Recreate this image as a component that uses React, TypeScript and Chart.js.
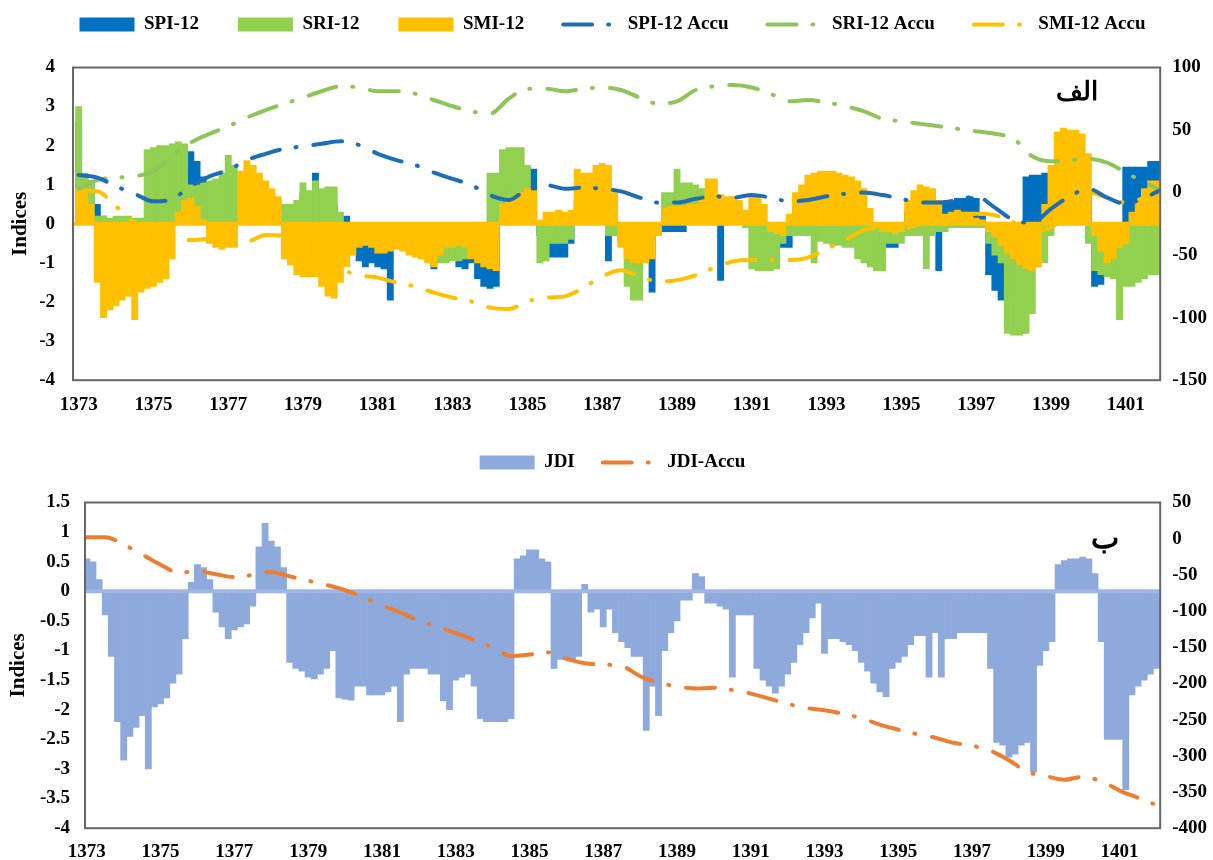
import React, { useEffect, useRef } from 'react';
import { Chart, registerables } from 'chart.js';

Chart.register(...registerables);

const FONT = "'Liberation Serif', 'Times New Roman', 'DejaVu Serif', serif";
Chart.defaults.font.family = FONT;
Chart.defaults.font.weight = 'bold';
Chart.defaults.color = '#000';

// ---------- data ----------
const START_YEAR = 1373;
const BAR_STEP = 1 / 6; // two months
const ACCU_STEP = 0.5; // half a year
const YEAR_TICKS = [1373, 1375, 1377, 1379, 1381, 1383, 1385, 1387, 1389, 1391, 1393, 1395, 1397, 1399, 1401];

// bi-monthly values, 6 per year, 1373 .. 1401
const SPI_12 = [
  2.6, 1.2, 1.1, 0.5, 0.2, 0.1, // 1373
  0.1, 0.05, -0.3, -0.5, -0.4, 0.15, // 1374
  1.2, 1.5, 1.6, 1.7, 1.8, 1.85, // 1375
  1.85, 1.6, 1.2, 0.9, 0.8, 1.0, // 1376
  1.2, 1.1, 1.2, 1.3, 1.3, 1.1, // 1377
  0.9, 0.7, 0.5, 0.3, 0.3, 0.4, // 1378
  0.8, 0.7, 1.3, 0.8, 0.6, 0.5, // 1379
  0.2, 0.2, -0.7, -0.95, -1.1, -1.0, // 1380
  -1.1, -1.15, -1.95, -0.5, -0.5, -0.6, // 1381
  -0.8, -0.85, -0.9, -1.15, -0.9, -0.7, // 1382
  -0.8, -1.1, -1.15, -1.0, -1.4, -1.6, // 1383
  -1.65, -1.6, 0.8, 1.0, 1.2, 1.3, // 1384
  1.45, 1.4, -0.3, -0.85, -0.85, -0.85, // 1385
  -0.85, -0.5, 0.6, 0.7, 0.8, 0.9, // 1386
  0.9, -0.95, -0.2, -0.4, -0.6, -0.8, // 1387
  -0.9, -0.95, -1.75, -0.3, -0.2, -0.2, // 1388
  -0.2, -0.2, 0.3, 0.4, 0.5, 0.6, // 1389
  0.3, -1.45, 0.2, 0.3, 0.3, 0.2, // 1390
  0.2, 0.1, -0.3, -0.4, -0.5, -0.6, // 1391
  -0.6, 0.5, 0.6, 0.7, 0.8, 0.3, // 1392
  0.5, 0.5, 0.4, 0.3, 0.3, 0.2, // 1393
  0.2, -0.2, -0.3, -0.4, -0.6, -0.6, // 1394
  -0.3, 0.3, 0.4, 0.5, 0.6, -0.3, // 1395
  -1.2, 0.55, 0.6, 0.65, 0.65, 0.7, // 1396
  0.65, 0.2, -1.3, -1.7, -1.95, -1.95, // 1397
  -1.0, -0.5, 1.2, 1.25, 1.25, 1.3, // 1398
  1.3, 1.3, 1.2, 1.2, 1.1, 1.0, // 1399
  0.8, -1.6, -1.55, -1.3, -1.2, -1.1, // 1400
  1.45, 1.45, 1.45, 1.45, 1.6, 1.6, // 1401
];

const SRI_12 = [
  3.0, 1.3, 1.1, 0.2, 0.2, 0.15, // 1373
  0.2, 0.2, 0.2, 0.15, 0.15, 1.9, // 1374
  1.95, 2.0, 2.0, 2.05, 2.1, 2.05, // 1375
  1.0, 1.0, 1.05, 1.1, 1.15, 1.3, // 1376
  1.75, 1.5, 1.3, 1.2, 1.1, 1.0, // 1377
  0.8, 0.7, 0.6, 0.5, 0.5, 0.6, // 1378
  1.05, 0.85, 1.1, 0.9, 0.95, 0.95, // 1379
  0.3, -0.2, -0.3, -0.4, -0.4, -0.5, // 1380
  -0.5, -0.5, -0.4, -0.4, -0.5, -0.6, // 1381
  -0.7, -0.8, -0.9, -1.0, -1.0, -1.0, // 1382
  -0.95, -0.95, -0.9, -0.6, -0.5, -0.5, // 1383
  1.3, 1.3, 1.9, 1.95, 1.95, 1.95, // 1384
  1.5, 0.8, -1.0, -0.95, -0.5, -0.5, // 1385
  -0.5, -0.4, 0.5, 0.6, 0.7, 0.8, // 1386
  0.9, -0.3, -0.3, -0.5, -1.6, -1.95, // 1387
  -1.95, -0.8, -0.8, -0.3, 0.8, 0.8, // 1388
  1.4, 1.05, 1.05, 1.0, 0.9, 0.8, // 1389
  0.4, 0.2, 0.1, 0.1, 0.0, -0.1, // 1390
  -1.15, -1.2, -1.2, -1.2, -1.15, -0.5, // 1391
  -0.3, -0.3, -0.3, -0.3, -1.0, -0.45, // 1392
  -0.5, -0.55, -0.55, -0.6, -0.6, -0.9, // 1393
  -1.0, -1.1, -1.2, -1.2, -0.5, -0.5, // 1394
  -0.5, -0.3, -0.3, -0.3, -1.15, -0.3, // 1395
  -0.2, -0.2, -0.1, -0.1, -0.1, -0.1, // 1396
  -0.1, -0.1, -0.5, -0.8, -1.0, -2.8, // 1397
  -2.85, -2.85, -2.8, -2.3, -1.1, -1.0, // 1398
  -0.3, 0.1, 0.2, 0.2, 0.1, 0.1, // 1399
  -0.5, -1.2, -1.3, -1.35, -1.4, -2.45, // 1400
  -1.6, -1.6, -1.5, -1.4, -1.3, -1.3, // 1401
];

const SMI_12 = [
  0.9, 0.8, 0.5, -1.5, -2.4, -2.2, // 1373
  -2.1, -1.95, -1.85, -2.45, -1.75, -1.65, // 1374
  -1.6, -1.5, -1.4, -0.9, 0.3, 0.6, // 1375
  0.65, 0.45, 0.1, -0.5, -0.6, -0.65, // 1376
  -0.6, -0.6, 1.35, 1.62, 1.5, 1.3, // 1377
  1.1, 0.9, 0.7, -0.9, -1.05, -1.3, // 1378
  -1.35, -1.35, -1.35, -1.6, -1.85, -1.9, // 1379
  -1.5, -1.1, -0.8, -0.6, -0.55, -0.6, // 1380
  -0.75, -0.75, -0.7, -0.65, -0.7, -0.8, // 1381
  -0.85, -0.9, -1.0, -1.1, -0.8, -0.6, // 1382
  -0.6, -0.55, -0.6, -0.9, -1.0, -1.1, // 1383
  -1.15, -1.2, 0.5, 0.6, 0.7, 0.8, // 1384
  0.9, 0.85, 0.1, 0.3, 0.3, 0.35, // 1385
  0.3, 0.35, 1.4, 1.3, 1.3, 1.5, // 1386
  1.55, 1.5, 0.8, -0.6, -0.9, -1.0, // 1387
  -1.0, -1.0, -0.9, -0.3, 0.4, 0.45, // 1388
  0.45, 0.45, 0.5, 0.5, 0.7, 1.15, // 1389
  1.15, 0.75, 0.7, 0.7, 0.6, 0.35, // 1390
  0.75, 0.75, 0.5, -0.2, -0.25, -0.3, // 1391
  0.25, 0.8, 1.0, 1.25, 1.3, 1.35, // 1392
  1.35, 1.35, 1.3, 1.25, 1.2, 1.1, // 1393
  0.9, 0.4, -0.1, -0.2, -0.2, -0.25, // 1394
  -0.2, 0.6, 0.85, 1.0, 0.95, 0.9, // 1395
  0.6, 0.25, 0.3, 0.35, 0.3, 0.3, // 1396
  0.15, 0.1, -0.2, -0.35, -0.55, -0.75, // 1397
  -0.9, -1.05, -1.15, -1.2, -1.1, 0.5, // 1398
  1.5, 2.35, 2.45, 2.4, 2.4, 2.3, // 1399
  1.8, -0.3, -0.7, -1.0, -0.9, -0.6, // 1400
  -0.5, 0.3, 0.6, 0.9, 1.1, 1.1, // 1401
];

// half-yearly accumulated values, 1373.0 .. 1402.0
const SPI_12_ACCU = [
  14, 12, 5, -1, -7, -5, 5, 13, 18, 26, 31, 35, 37, 39, 41, 38, 31, 26, 22, 16,
  11, 6, -2, -6, 3, 6, 3, 4, 3, 1, -4, -8, -8, -5, -3, -4, -2, -4, -7, -6,
  -3, -1, 0, -2, -5, -8, -8, -6, -3, -12, -22, -24, -13, -3, 3, -4, -9, -4, 3,
];
const SRI_12_ACCU = [
  3, 10, 12, 13, 17, 29, 40, 47, 53, 60, 66, 71, 76, 81, 85, 84, 81, 81, 79, 74,
  69, 65, 63, 75, 83, 83, 81, 83, 84, 82, 76, 71, 73, 82, 85, 86, 84, 79, 73, 74,
  72, 69, 65, 59, 57, 55, 53, 51, 49, 47, 43, 29, 25, 26, 27, 24, 16, 8, 1,
];
const SMI_12_ACCU = [
  2, 1, -11, -24, -33, -38, -38, -37, -39, -39, -34, -35, -43, -52, -61, -66, -68, -72, -75, -80,
  -84, -87, -92, -93, -87, -84, -83, -76, -67, -62, -67, -71, -70, -66, -60, -55, -54, -54, -54, -52,
  -45, -38, -30, -28, -29, -25, -20, -18, -17, -18, -24, -30, -28, -14, 0, -4, -8, -4, 2,
];

const JDI = [
  0.55, 0.5, 0.2, -0.4, -1.1, -2.2, // 1373
  -2.85, -2.45, -2.3, -2.1, -3.0, -1.95, // 1374
  -1.9, -1.8, -1.55, -1.4, -0.8, 0.15, // 1375
  0.45, 0.4, 0.2, -0.35, -0.6, -0.8, // 1376
  -0.65, -0.6, -0.55, -0.25, 0.75, 1.15, // 1377
  0.85, 0.75, 0.4, -1.2, -1.3, -1.35, // 1378
  -1.45, -1.48, -1.4, -1.3, -1.0, -1.8, // 1379
  -1.82, -1.84, -1.6, -1.6, -1.75, -1.75, // 1380
  -1.75, -1.7, -1.6, -2.2, -1.4, -1.3, // 1381
  -1.3, -1.3, -1.4, -1.4, -1.85, -2.0, // 1382
  -1.5, -1.45, -1.4, -1.6, -2.15, -2.2, // 1383
  -2.2, -2.2, -2.2, -2.15, 0.55, 0.6, // 1384
  0.7, 0.7, 0.55, 0.5, -1.3, -1.15, // 1385
  -1.15, -1.15, -1.1, 0.12, -0.35, -0.3, // 1386
  -0.6, -0.3, -0.7, -0.85, -0.95, -1.1, // 1387
  -1.1, -2.35, -1.6, -2.1, -1.0, -0.7, // 1388
  -0.5, -0.15, -0.15, 0.3, 0.25, -0.2, // 1389
  -0.2, -0.25, -0.3, -1.45, -0.4, -0.4, // 1390
  -0.4, -1.3, -1.5, -1.6, -1.72, -1.6, // 1391
  -1.4, -1.2, -0.9, -0.7, -0.45, -0.2, // 1392
  -1.05, -0.8, -0.8, -0.85, -0.9, -1.0, // 1393
  -1.2, -1.35, -1.55, -1.7, -1.78, -1.3, // 1394
  -1.2, -1.1, -0.9, -0.75, -0.75, -1.45, // 1395
  -0.7, -1.45, -0.8, -0.8, -0.7, -0.7, // 1396
  -0.7, -0.7, -0.7, -1.3, -2.55, -2.6, // 1397
  -2.8, -2.75, -2.6, -2.55, -3.05, -1.25, // 1398
  -1.0, -0.85, 0.45, 0.52, 0.55, 0.55, // 1399
  0.58, 0.55, 0.3, -0.85, -2.5, -2.5, // 1400
  -2.5, -3.35, -1.75, -1.6, -1.5, -1.4, // 1401
  -1.3, // 1402
];

const JDI_ACCU = [
  2, 2, -8, -22, -36, -47, -45, -49, -53, -50, -46, -52, -58, -64, -71, -81, -92, -102, -113, -122,
  -130, -140, -150, -162, -160, -157, -166, -172, -174, -176, -190, -199, -204, -207, -206, -209, -214, -221, -228, -234,
  -237, -242, -248, -257, -264, -270, -275, -282, -286, -293, -306, -322, -328, -333, -329, -335, -348, -358, -368,
];

// ---------- helpers ----------
const toBarPoints = (values: number[]) => values.map((v, i) => ({ x: START_YEAR + i * BAR_STEP, y: v }));
const toAccuPoints = (values: number[]) => values.map((v, i) => ({ x: START_YEAR + i * ACCU_STEP, y: v }));

const DASH = [29, 16, 1, 17];

const barDataset = (label: string, values: number[], color: string, order: number) => ({
  type: 'bar' as const,
  label,
  data: toBarPoints(values),
  backgroundColor: color,
  borderWidth: 0,
  grouped: false,
  barPercentage: 1,
  categoryPercentage: 1,
  yAxisID: 'y',
  order,
});

const lineDataset = (label: string, values: number[], color: string) => ({
  type: 'line' as const,
  label,
  data: toAccuPoints(values),
  borderColor: color,
  backgroundColor: color,
  borderWidth: 4,
  borderDash: DASH,
  borderCapStyle: 'round' as const,
  pointRadius: 0,
  fill: false,
  cubicInterpolationMode: 'monotone' as const,
  yAxisID: 'y1',
  order: 0,
});

function legendLabels(chart: any) {
  const items = Chart.defaults.plugins.legend.labels.generateLabels(chart);
  items.sort((a: any, b: any) => a.datasetIndex - b.datasetIndex);
  items.forEach((it: any) => {
    const ds: any = chart.data.datasets[it.datasetIndex];
    if (ds.type === 'line') {
      it.pointStyle = 'line';
      it.strokeStyle = ds.borderColor;
      it.fillStyle = ds.borderColor;
      it.lineWidth = ds.borderWidth;
      it.lineDash = ds.borderDash;
      it.lineCap = 'round';
    } else {
      it.pointStyle = 'rect';
      it.fillStyle = ds.backgroundColor;
      it.strokeStyle = ds.backgroundColor;
      it.lineWidth = 0;
      it.lineDash = [];
    }
  });
  return items;
}

const decorPlugin = {
  id: 'decor',
  afterDatasetDraw(chart: any, args: any, opts: any) {
    if (args.index !== opts.zeroAfter) return;
    const { ctx, chartArea } = chart;
    const y = chart.scales.y.getPixelForValue(0);
    ctx.save();
    ctx.strokeStyle = opts.zeroColor;
    ctx.lineWidth = 4;
    ctx.beginPath();
    ctx.moveTo(chartArea.left, y);
    ctx.lineTo(chartArea.right, y);
    ctx.stroke();
    ctx.restore();
  },
  afterDraw(chart: any, _args: any, opts: any) {
    const { ctx, chartArea } = chart;
    ctx.save();
    ctx.strokeStyle = '#666';
    ctx.lineWidth = 2;
    ctx.strokeRect(chartArea.left, chartArea.top, chartArea.right - chartArea.left, chartArea.bottom - chartArea.top);
    ctx.fillStyle = '#000';
    ctx.font = `bold ${opts.tagSize}px ${FONT}`;
    ctx.textAlign = 'center';
    ctx.textBaseline = 'middle';
    ctx.fillText(opts.tag, chartArea.right - opts.tagDx, chartArea.top + opts.tagDy);
    ctx.restore();
  },
};

const tickFont = { size: 19, weight: 'bold' as const };
const noGrid = { display: false, drawTicks: false };
const numLabel = (v: any) => String(Math.round(Number(v) * 100) / 100);

function xScale(min: number, max: number, pad: number) {
  return {
    type: 'linear' as const,
    min,
    max,
    offset: false,
    afterBuildTicks: (axis: any) => {
      axis.ticks = YEAR_TICKS.map((v) => ({ value: v }));
    },
    ticks: { autoSkip: false, maxRotation: 0, padding: pad, font: tickFont, callback: (v: any) => String(v) },
    grid: noGrid,
    border: { display: false },
  };
}

function yLeft(min: number, max: number, step: number, pad: number, titlePad: { top: number; bottom: number }) {
  return {
    position: 'left' as const,
    min,
    max,
    ticks: { stepSize: step, padding: pad, font: tickFont, callback: numLabel },
    grid: noGrid,
    border: { display: false },
    title: { display: true, text: 'Indices', font: { size: 21, weight: 'bold' as const }, padding: titlePad },
  };
}

function yRight(min: number, max: number, step: number) {
  return {
    position: 'right' as const,
    min,
    max,
    ticks: { stepSize: step, padding: 12, font: tickFont, callback: numLabel },
    grid: noGrid,
    border: { display: false },
  };
}

function topConfig(): any {
  return {
    type: 'bar',
    data: {
      datasets: [
        barDataset('SPI-12', SPI_12, '#0070C0', 3),
        barDataset('SRI-12', SRI_12, '#92D050', 2),
        barDataset('SMI-12', SMI_12, '#FFC000', 1),
        lineDataset('SPI-12 Accu', SPI_12_ACCU, '#1F6EB5'),
        lineDataset('SRI-12 Accu', SRI_12_ACCU, '#8FC45A'),
        lineDataset('SMI-12 Accu', SMI_12_ACCU, '#FFC000'),
      ],
    },
    options: {
      responsive: true,
      maintainAspectRatio: false,
      animation: false,
      events: [],
      layout: { padding: { left: 6, right: -6, top: 0, bottom: 0 } },
      scales: {
        x: xScale(1372.85, 1401.92, 13),
        y: yLeft(-4, 4, 1, 18, { top: 2.4, bottom: -12.4 }),
        y1: yRight(-150, 100, 50),
      },
      plugins: {
        tooltip: { enabled: false },
        title: { display: true, text: ' ', weight: 500, font: { size: 10 }, padding: { top: 6, bottom: 5.5 } },
        legend: {
          position: 'top',
          labels: {
            usePointStyle: true,
            pointStyleWidth: 55,
            boxHeight: 14,
            padding: 39,
            color: '#000',
            font: { size: 19, weight: 'bold' },
            generateLabels: legendLabels,
          },
        },
        decor: { zeroAfter: 2, zeroColor: '#FFC000', tag: 'الف', tagSize: 26, tagDx: 83, tagDy: 26 },
      },
    },
    plugins: [decorPlugin],
  };
}

function bottomConfig(): any {
  return {
    type: 'bar',
    data: {
      datasets: [
        barDataset('JDI', JDI, '#8EA9DB', 1),
        lineDataset('JDI-Accu', JDI_ACCU, '#ED7D31'),
      ],
    },
    options: {
      responsive: true,
      maintainAspectRatio: false,
      animation: false,
      events: [],
      layout: { padding: { left: 6, right: -6, top: 0, bottom: 0 } },
      scales: {
        x: xScale(1372.95, 1402.1, 12),
        y: yLeft(-4, 1.5, 0.5, 15, { top: 0, bottom: -6.3 }),
        y1: yRight(-400, 50, 50),
      },
      plugins: {
        tooltip: { enabled: false },
        title: { display: true, text: ' ', weight: 500, font: { size: 10 }, padding: { top: 4, bottom: 4.5 } },
        legend: {
          position: 'top',
          labels: {
            usePointStyle: true,
            pointStyleWidth: 55,
            boxHeight: 14,
            padding: 28,
            color: '#000',
            font: { size: 19, weight: 'bold' },
            generateLabels: legendLabels,
          },
        },
        decor: { zeroAfter: 0, zeroColor: '#9DB6E4', tag: 'ب', tagSize: 30, tagDx: 55, tagDy: 38 },
      },
    },
    plugins: [decorPlugin],
  };
}

function ChartBox({ make, style }: { make: () => any; style: React.CSSProperties }) {
  const ref = useRef<HTMLCanvasElement>(null);
  useEffect(() => {
    const chart = new Chart(ref.current as HTMLCanvasElement, make());
    return () => chart.destroy();
  }, []);
  return (
    <div style={{ position: 'absolute', left: 0, width: 1213, ...style }}>
      <canvas ref={ref} />
    </div>
  );
}

export default function App() {
  return (
    <div style={{ position: 'absolute', left: 0, top: 0, width: 1213, height: 860, overflow: 'hidden', background: '#fff' }}>
      <ChartBox make={topConfig} style={{ top: -24, height: 453 }} />
      <ChartBox make={bottomConfig} style={{ top: 425, height: 450 }} />
    </div>
  );
}
